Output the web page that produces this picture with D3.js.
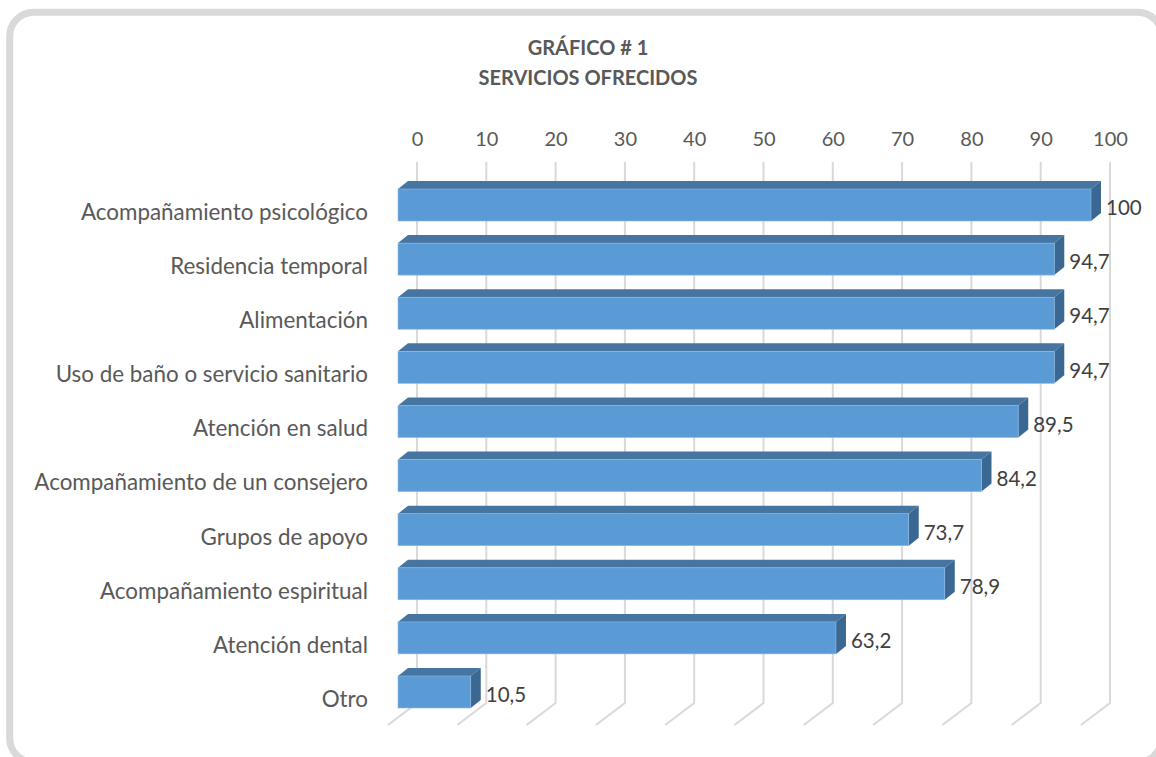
<!DOCTYPE html>
<html>
<head>
<meta charset="utf-8">
<script src="https://cdn.jsdelivr.net/npm/d3@7"></script>
<style>
  html, body { margin: 0; padding: 0; background: #fff; }
  svg { display: block; }
  .tick-label { font-family: Lato, "Open Sans", sans-serif; font-size: 20px; fill: #595959; }
  .cat-label { font-family: Lato, "Open Sans", sans-serif; font-size: 22.4px; fill: #595959; }
  .val-label { font-family: Lato, "Open Sans", sans-serif; font-size: 20.5px; fill: #404040; }
  .title { font-family: Lato, "Open Sans", sans-serif; font-size: 20px; font-weight: bold; fill: #595959; }
</style>
</head>
<body>
<div id="chart"></div>
<script>
const categories = [
  'Acompañamiento psicológico',
  'Residencia temporal',
  'Alimentación',
  'Uso de baño o servicio sanitario',
  'Atención en salud',
  'Acompañamiento de un consejero',
  'Grupos de apoyo',
  'Acompañamiento espiritual',
  'Atención dental',
  'Otro'
];
const values = [100, 94.7, 94.7, 94.7, 89.5, 84.2, 73.7, 78.9, 63.2, 10.5];
const tickValues = [0, 10, 20, 30, 40, 50, 60, 70, 80, 90, 100];
const titleLines = ['GRÁFICO # 1', 'SERVICIOS OFRECIDOS'];

const width = 1156, height = 757;
const fmt = v => String(v).replace('.', ',');

const svg = d3.select('#chart').append('svg')
  .attr('width', width)
  .attr('height', height);

// outer frame
svg.append('rect')
  .attr('x', 9.7).attr('y', 12.2)
  .attr('width', 1152).attr('height', 750)
  .attr('rx', 24).attr('ry', 24)
  .attr('fill', '#fff')
  .attr('stroke', '#d9d9d9')
  .attr('stroke-width', 7);

// title
svg.append('text')
  .attr('class', 'title')
  .attr('text-anchor', 'middle')
  .selectAll('tspan')
  .data(titleLines)
  .enter().append('tspan')
  .attr('x', 588)
  .attr('y', (d, i) => 55 + i * 30)
  .text(d => d);

// back wall scale and front (bar) offset
const x = d3.scaleLinear().domain([0, 100]).range([417, 1110]);
const frontDx = -19;
const y = d3.scalePoint().domain(categories).range([205, 692]);
const barH = 32;
const depthX = 10, depthY = 8;

const gridTop = 162, gridBottom = 703;
const floorDx = -29, floorDy = 22;

// --- Gridlines ---
svg.append('g').selectAll('path')
  .data(tickValues)
  .enter().append('path')
  .attr('d', d => `M${x(d)},${gridTop}V${gridBottom}l${floorDx},${floorDy}`)
  .attr('fill', 'none')
  .attr('stroke', '#d9d9d9')
  .attr('stroke-width', 2);

// --- Axis labels (top) ---
const axis = svg.append('g')
  .attr('transform', `translate(0,${146})`)
  .call(d3.axisTop(x).tickValues(tickValues).tickSize(0).tickPadding(0));
axis.select('.domain').remove();
axis.selectAll('text')
  .attr('class', 'tick-label')
  .attr('fill', null)
  .attr('font-size', null)
  .attr('font-family', null);

// --- Bars ---
const data = categories.map((c, i) => ({ cat: c, value: values[i] }));
const bar = svg.append('g').selectAll('g')
  .data(data)
  .enter().append('g');

const x0 = x(0) + frontDx;
// top face
bar.append('path')
  .attr('d', d => {
    const x1 = x(d.value) + frontDx, yt = y(d.cat) - barH / 2;
    return `M${x0},${yt}L${x0 + depthX},${yt - depthY}L${x1 + depthX},${yt - depthY}L${x1},${yt}Z`;
  })
  .attr('fill', '#4675a2');
// side face
bar.append('path')
  .attr('d', d => {
    const x1 = x(d.value) + frontDx, yt = y(d.cat) - barH / 2;
    return `M${x1},${yt}L${x1 + depthX},${yt - depthY}L${x1 + depthX},${yt + barH - depthY}L${x1},${yt + barH}Z`;
  })
  .attr('fill', '#3a6893');
// front face
bar.append('rect')
  .attr('x', x0)
  .attr('y', d => y(d.cat) - barH / 2)
  .attr('width', d => x(d.value) - x(0))
  .attr('height', barH)
  .attr('fill', '#5b9bd5')
  .attr('stroke', '#8cb8e2')
  .attr('stroke-width', 0.6);

// value labels
bar.append('text')
  .attr('class', 'val-label')
  .attr('x', d => x(d.value) + frontDx + depthX + 5)
  .attr('y', d => y(d.cat) + 3)
  .attr('dy', '0.35em')
  .text(d => fmt(d.value));

// category labels
svg.append('g').selectAll('text')
  .data(categories)
  .enter().append('text')
  .attr('class', 'cat-label')
  .attr('text-anchor', 'end')
  .attr('x', 368)
  .attr('y', d => y(d) + 7)
  .attr('dy', '0.35em')
  .text(d => d);
</script>
</body>
</html>
